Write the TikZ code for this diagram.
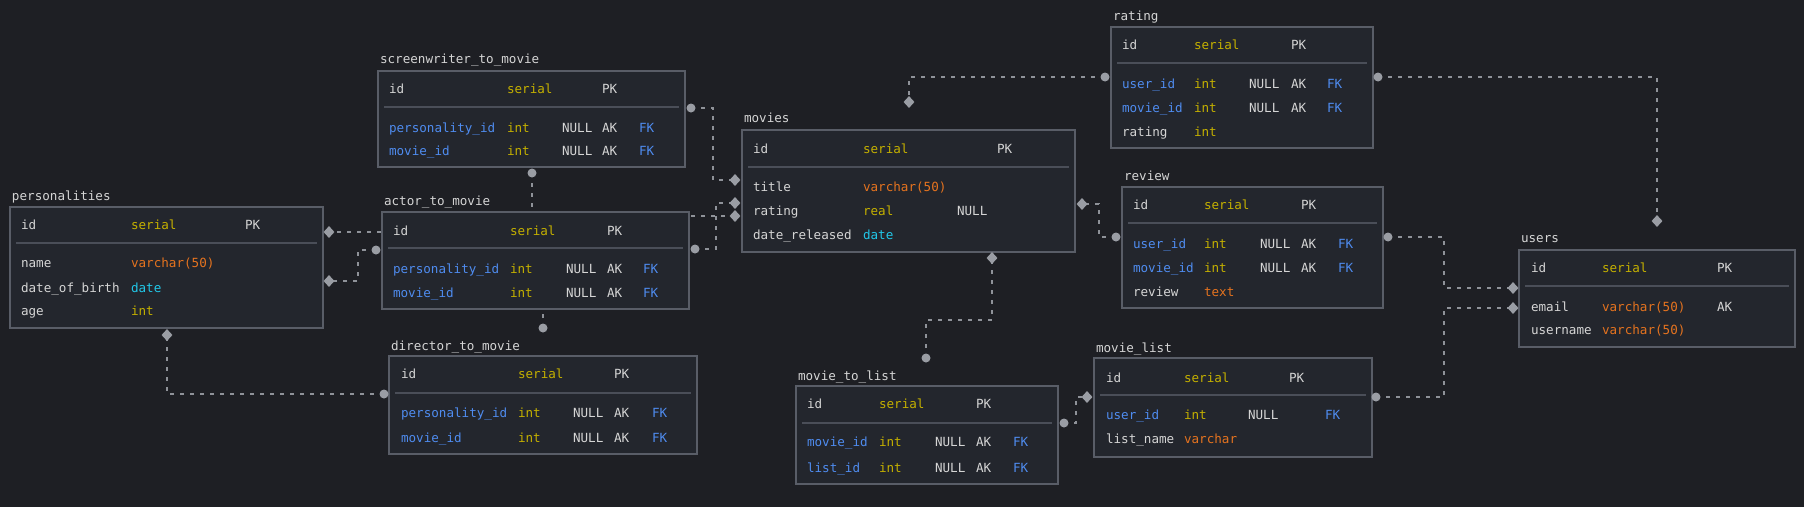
\documentclass[tikz,border=0pt]{standalone}
\usepackage{fontspec}
\usetikzlibrary{shapes.geometric}
\newfontfamily\erdfont{DejaVu Sans Mono}
\definecolor{bgc}{HTML}{1E1F24}
\definecolor{boxfill}{HTML}{23262D}
\definecolor{boxline}{HTML}{595D67}
\definecolor{sepc}{HTML}{4A4E58}
\definecolor{tw}{HTML}{D5D5D5}
\definecolor{ty}{HTML}{C4B000}
\definecolor{to}{HTML}{E5731F}
\definecolor{tc}{HTML}{21C7E8}
\definecolor{tb}{HTML}{4F8CF0}
\definecolor{connc}{HTML}{8F9299}
\definecolor{markc}{HTML}{9A9DA4}
\newcounter{cellc}
\newcommand\cell[4]{\stepcounter{cellc}\node[cellst,text=#4] (cell\arabic{cellc}) at (#1,#2) {#3};}
% #1 name #2 x1 #3 y1 #4 x2 #5 y2 #6 sep y #7 title #8 title baseline
\newcommand\erdtable[8]{%
  \node[tbox,minimum width={(#4-#2)*1pt},minimum height={(#5-#3)*1pt}] (#1) at (#2,#3) {};
  \draw[sepl] ({#2+6},#6) -- ({#4-6},#6);
  \node[cellst,text=tw] (#1-title) at ({#2+2},#8) {#7};
}
\begin{document}
\begin{tikzpicture}[x=1pt,y=-1pt,
  tbox/.style={draw=boxline,fill=boxfill,line width=2.4pt,anchor=north west,inner sep=0pt,outer sep=0pt},
  sepl/.style={draw=sepc,line width=1.6pt},
  cellst/.style={inner sep=0pt,outer sep=0pt,anchor=base west,font=\erdfont\fontsize{12.6}{14}\selectfont},
  conn/.style={draw=connc,line width=1.3pt,dash pattern=on 4pt off 6pt},
  circm/.style={circle,fill=markc,minimum size=9pt,inner sep=0pt},
  diam/.style={diamond,fill=markc,minimum width=11pt,minimum height=12pt,inner sep=0pt}]
\useasboundingbox (0,0) rectangle (1804,507);
\fill[bgc] (0,0) rectangle (1804,507);
% marker coordinates
\coordinate (swR) at (691,108); \coordinate (mvL1) at (735,180);
\coordinate (swB) at (532,173); \coordinate (peR1) at (329,232);
\coordinate (acL) at (376,250); \coordinate (peR2) at (329,281);
\coordinate (acR) at (695,249); \coordinate (mvL2) at (735,203);
\coordinate (acB) at (543,328); \coordinate (mvL3) at (735,216);
\coordinate (diL) at (384,394); \coordinate (peB) at (167,335);
\coordinate (raL) at (1105,77); \coordinate (mvT) at (909,102);
\coordinate (raR) at (1378,77); \coordinate (usT) at (1657,221);
\coordinate (reL) at (1116,237); \coordinate (mvR) at (1082,204);
\coordinate (reR) at (1388,237); \coordinate (usL1) at (1513,288);
\coordinate (mlR) at (1376,397); \coordinate (usL2) at (1513,308);
\coordinate (mtR) at (1064,423); \coordinate (mlL) at (1087,397);
\coordinate (mtT) at (926,358); \coordinate (mvB) at (992,258);
% connectors
\draw[conn] (swR) -- ++(22,0) |- (mvL1);
\draw[conn] (swB) |- (peR1);
\draw[conn] (acL) -- ++(-18,0) |- (peR2);
\draw[conn] (acR) -- ++(21,0) |- (mvL2);
\draw[conn] (acB) |- (mvL3);
\draw[conn] (diL) -| (peB);
\draw[conn] (raL) -| (mvT);
\draw[conn] (raR) -| (usT);
\draw[conn] (reL) -- ++(-17,0) |- (mvR);
\draw[conn] (reR) -- ++(56,0) |- (usL1);
\draw[conn] (mlR) -- ++(68,0) |- (usL2);
\draw[conn] (mtR) -- ++(12,0) |- (mlL);
\draw[conn] (mtT) -- ++(0,-38) -| (mvB);
% tables
\erdtable{pe}{10}{207}{323}{328}{243}{personalities}{200}
\cell{21}{229}{id}{tw}\cell{131}{229}{serial}{ty}\cell{245}{229}{PK}{tw}
\cell{21}{267}{name}{tw}\cell{131}{267}{varchar(50)}{to}
\cell{21}{292}{date\_of\_birth}{tw}\cell{131}{292}{date}{tc}
\cell{21}{315}{age}{tw}\cell{131}{315}{int}{ty}
%
\erdtable{sw}{378}{71}{685}{167}{107}{screenwriter\_to\_movie}{63}
\cell{389}{93}{id}{tw}\cell{507}{93}{serial}{ty}\cell{602}{93}{PK}{tw}
\cell{389}{132}{personality\_id}{tb}\cell{507}{132}{int}{ty}\cell{562}{132}{NULL}{tw}\cell{602}{132}{AK}{tw}\cell{639}{132}{FK}{tb}
\cell{389}{155}{movie\_id}{tb}\cell{507}{155}{int}{ty}\cell{562}{155}{NULL}{tw}\cell{602}{155}{AK}{tw}\cell{639}{155}{FK}{tb}
%
\erdtable{ac}{382}{212}{689}{309}{248}{actor\_to\_movie}{205}
\cell{393}{235}{id}{tw}\cell{510}{235}{serial}{ty}\cell{607}{235}{PK}{tw}
\cell{393}{273}{personality\_id}{tb}\cell{510}{273}{int}{ty}\cell{566}{273}{NULL}{tw}\cell{607}{273}{AK}{tw}\cell{643}{273}{FK}{tb}
\cell{393}{297}{movie\_id}{tb}\cell{510}{297}{int}{ty}\cell{566}{297}{NULL}{tw}\cell{607}{297}{AK}{tw}\cell{643}{297}{FK}{tb}
%
\erdtable{di}{389}{356}{697}{454}{393}{director\_to\_movie}{350}
\cell{401}{378}{id}{tw}\cell{518}{378}{serial}{ty}\cell{614}{378}{PK}{tw}
\cell{401}{417}{personality\_id}{tb}\cell{518}{417}{int}{ty}\cell{573}{417}{NULL}{tw}\cell{614}{417}{AK}{tw}\cell{652}{417}{FK}{tb}
\cell{401}{442}{movie\_id}{tb}\cell{518}{442}{int}{ty}\cell{573}{442}{NULL}{tw}\cell{614}{442}{AK}{tw}\cell{652}{442}{FK}{tb}
%
\erdtable{mv}{742}{130}{1075}{252}{167}{movies}{122}
\cell{753}{153}{id}{tw}\cell{863}{153}{serial}{ty}\cell{997}{153}{PK}{tw}
\cell{753}{191}{title}{tw}\cell{863}{191}{varchar(50)}{to}
\cell{753}{215}{rating}{tw}\cell{863}{215}{real}{ty}\cell{957}{215}{NULL}{tw}
\cell{753}{239}{date\_released}{tw}\cell{863}{239}{date}{tc}
%
\erdtable{ra}{1111}{27}{1373}{148}{63}{rating}{20}
\cell{1122}{49}{id}{tw}\cell{1194}{49}{serial}{ty}\cell{1291}{49}{PK}{tw}
\cell{1122}{88}{user\_id}{tb}\cell{1194}{88}{int}{ty}\cell{1249}{88}{NULL}{tw}\cell{1291}{88}{AK}{tw}\cell{1327}{88}{FK}{tb}
\cell{1122}{112}{movie\_id}{tb}\cell{1194}{112}{int}{ty}\cell{1249}{112}{NULL}{tw}\cell{1291}{112}{AK}{tw}\cell{1327}{112}{FK}{tb}
\cell{1122}{136}{rating}{tw}\cell{1194}{136}{int}{ty}
%
\erdtable{re}{1122}{187}{1383}{308}{223}{review}{180}
\cell{1133}{209}{id}{tw}\cell{1204}{209}{serial}{ty}\cell{1301}{209}{PK}{tw}
\cell{1133}{248}{user\_id}{tb}\cell{1204}{248}{int}{ty}\cell{1260}{248}{NULL}{tw}\cell{1301}{248}{AK}{tw}\cell{1338}{248}{FK}{tb}
\cell{1133}{272}{movie\_id}{tb}\cell{1204}{272}{int}{ty}\cell{1260}{272}{NULL}{tw}\cell{1301}{272}{AK}{tw}\cell{1338}{272}{FK}{tb}
\cell{1133}{296}{review}{tw}\cell{1204}{296}{text}{to}
%
\erdtable{us}{1519}{250}{1795}{347}{286}{users}{242}
\cell{1531}{272}{id}{tw}\cell{1602}{272}{serial}{ty}\cell{1717}{272}{PK}{tw}
\cell{1531}{311}{email}{tw}\cell{1602}{311}{varchar(50)}{to}\cell{1717}{311}{AK}{tw}
\cell{1531}{334}{username}{tw}\cell{1602}{334}{varchar(50)}{to}
%
\erdtable{mt}{796}{386}{1058}{484}{423}{movie\_to\_list}{380}
\cell{807}{408}{id}{tw}\cell{879}{408}{serial}{ty}\cell{976}{408}{PK}{tw}
\cell{807}{446}{movie\_id}{tb}\cell{879}{446}{int}{ty}\cell{935}{446}{NULL}{tw}\cell{976}{446}{AK}{tw}\cell{1013}{446}{FK}{tb}
\cell{807}{472}{list\_id}{tb}\cell{879}{472}{int}{ty}\cell{935}{472}{NULL}{tw}\cell{976}{472}{AK}{tw}\cell{1013}{472}{FK}{tb}
%
\erdtable{ml}{1094}{358}{1372}{457}{395}{movie\_list}{352}
\cell{1106}{382}{id}{tw}\cell{1184}{382}{serial}{ty}\cell{1289}{382}{PK}{tw}
\cell{1106}{419}{user\_id}{tb}\cell{1184}{419}{int}{ty}\cell{1248}{419}{NULL}{tw}\cell{1325}{419}{FK}{tb}
\cell{1106}{443}{list\_name}{tw}\cell{1184}{443}{varchar}{to}
% markers
\foreach \p in {swR,swB,acL,acR,acB,diL,raL,raR,reL,reR,mlR,mtR,mtT}
  \node[circm] (mk-\p) at (\p) {};
\foreach \p in {mvL1,peR1,peR2,mvL2,mvL3,peB,mvT,usT,mvR,usL1,usL2,mlL,mvB}
  \node[diam] (mk-\p) at (\p) {};
\end{tikzpicture}
\end{document}
